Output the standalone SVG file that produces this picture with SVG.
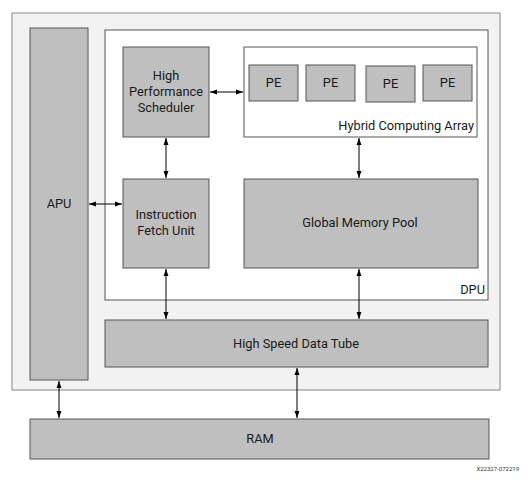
<svg xmlns="http://www.w3.org/2000/svg" width="527" height="484" viewBox="0 0 527 484">
<defs>
<marker id="ah" viewBox="0 0 10 10" refX="10" refY="5" markerWidth="7" markerHeight="7" orient="auto-start-reverse" markerUnits="userSpaceOnUse">
<path d="M0,1.5 L10,5 L0,8.5 z" fill="#000"/>
</marker>
<style>
.blk{fill:#bfbfbf;stroke:#555;stroke-width:1}
.wht{fill:#fff;stroke:#555;stroke-width:1}
.t{font-family:Roboto,"Liberation Sans",sans-serif;font-size:12.8px;fill:#1a1a1a;text-anchor:middle}
.c{stroke:#000;stroke-width:1;fill:none;marker-start:url(#ah);marker-end:url(#ah)}
</style>
</defs>
<rect width="527" height="484" fill="#fff"/>
<g id="system"><rect x="12" y="13" width="488" height="377" fill="#f2f2f2" stroke="#888" stroke-width="1"/></g>
<g id="apu"><rect class="blk" x="30" y="28" width="58" height="352"/><text class="t" x="59" y="208">APU</text></g>
<g id="dpu"><rect class="wht" x="105" y="30" width="383" height="270"/><text class="t" x="485" y="294" style="text-anchor:end">DPU</text></g>
<g id="hps"><rect class="blk" x="123" y="47" width="86" height="90"/>
<text class="t" x="166" y="80">High</text><text class="t" x="166" y="96">Performance</text><text class="t" x="166" y="112">Scheduler</text></g>
<g id="hca"><rect class="wht" x="244" y="47" width="233" height="90"/><text class="t" x="474" y="130" style="text-anchor:end">Hybrid Computing Array</text></g>
<g id="pe1"><rect class="blk" x="249" y="65" width="49" height="36"/><text class="t" x="273.500" y="87">PE</text></g>
<g id="pe2"><rect class="blk" x="306" y="65" width="49" height="36"/><text class="t" x="330.500" y="87">PE</text></g>
<g id="pe3"><rect class="blk" x="366" y="66" width="49" height="36"/><text class="t" x="390.500" y="88">PE</text></g>
<g id="pe4"><rect class="blk" x="423" y="65" width="49" height="36"/><text class="t" x="447.500" y="87">PE</text></g>
<g id="ifu"><rect class="blk" x="123" y="179" width="86" height="89"/>
<text class="t" x="166" y="219">Instruction</text><text class="t" x="166" y="235">Fetch Unit</text></g>
<g id="gmp"><rect class="blk" x="244" y="179" width="234" height="89"/><text class="t" x="360" y="227">Global Memory Pool</text></g>
<g id="hsdt"><rect class="blk" x="105" y="320" width="383" height="47"/><text class="t" x="296" y="348">High Speed Data Tube</text></g>
<g id="ram"><rect class="blk" x="30" y="419" width="459" height="40"/><text class="t" x="260" y="443">RAM</text></g>
<g id="label"><text x="519" y="471" style="font-family:Roboto,'Liberation Sans',sans-serif;font-size:6px;fill:#333;text-anchor:end">X22327-072219</text></g>
<g id="connectors">
<line class="c" x1="210" y1="92" x2="243" y2="92"/>
<line class="c" x1="166" y1="138" x2="166" y2="178"/>
<line class="c" x1="359" y1="138" x2="359" y2="178"/>
<line class="c" x1="89" y1="204" x2="122" y2="204"/>
<line class="c" x1="166" y1="269" x2="166" y2="319"/>
<line class="c" x1="359" y1="269" x2="359" y2="319"/>
<line class="c" x1="59" y1="381" x2="59" y2="418"/>
<line class="c" x1="297" y1="368" x2="297" y2="418"/>
</g>
</svg>
